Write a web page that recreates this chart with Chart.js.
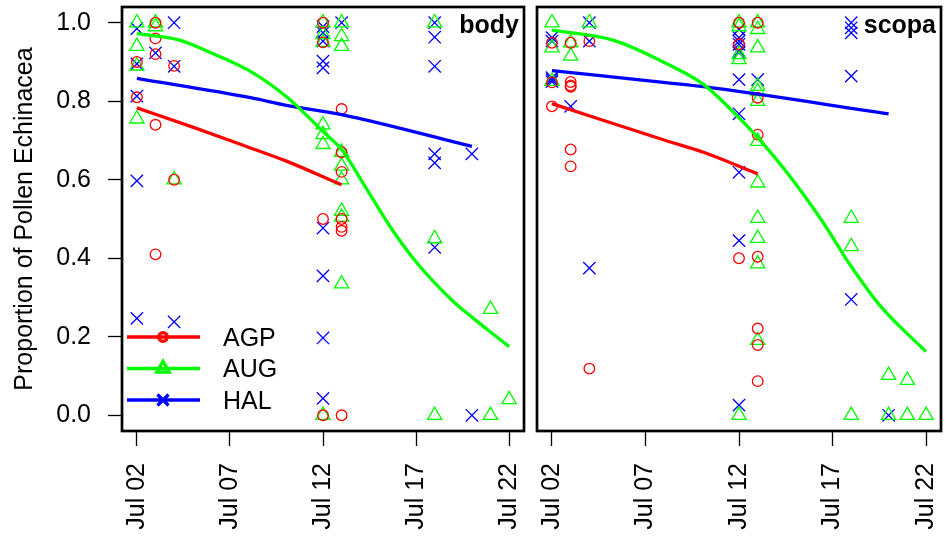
<!DOCTYPE html>
<html>
<head>
<meta charset="utf-8">
<script src="https://cdn.jsdelivr.net/npm/chart.js@4.4.1/dist/chart.umd.min.js"></script>
<style>
  html, body { margin: 0; padding: 0; background: #fff; }
  #wrap { position: relative; width: 952px; height: 537px; }
  #bodyBox { position: absolute; left: 0; top: 0; width: 530px; height: 537px; }
  #scopaBox { position: absolute; left: 530px; top: 0; width: 422px; height: 537px; }
</style>
</head>
<body>
<div id="wrap">
  <div id="bodyBox"><canvas id="bodyChart" width="530" height="537"></canvas></div>
  <div id="scopaBox"><canvas id="scopaChart" width="422" height="537"></canvas></div>
</div>
<script>
// groups, ticks
const groups = ['AGP', 'AUG', 'HAL'];
const dayTicks = [2, 7, 12, 17, 22];
const propTicks = [0, 0.2, 0.4, 0.6, 0.8, 1.0];

// body samples: [day of July, proportion]
const bodyAGP = [[2, 0.90], [2, 0.81], [3, 1.0], [3, 0.96], [3, 0.92], [3, 0.74], [3, 0.41],
  [4, 0.89], [4, 0.60], [12, 1.0], [12, 0.95], [12, 0.50], [12, 0.0],
  [13, 0.78], [13, 0.67], [13, 0.62], [13, 0.50], [13, 0.48], [13, 0.47], [13, 0.0]];
const bodyAUG = [[2, 1.0], [2, 0.94], [2, 0.89], [2, 0.755], [3, 1.0], [3, 0.99], [4, 0.60],
  [12, 1.0], [12, 0.97], [12, 0.95], [12, 0.74], [12, 0.715], [12, 0.69], [12, 0.0],
  [13, 1.0], [13, 0.965], [13, 0.94], [13, 0.67], [13, 0.635], [13, 0.60], [13, 0.52], [13, 0.505], [13, 0.335],
  [18, 1.0], [18, 0.45], [18, 0.0], [21, 0.27], [21, 0.0], [22, 0.04]];
const bodyHAL = [[2, 0.985], [2, 0.895], [2, 0.813], [2, 0.597], [2, 0.247], [3, 0.923],
  [4, 1.0], [4, 0.889], [4, 0.238],
  [12, 0.99], [12, 0.974], [12, 0.953], [12, 0.902], [12, 0.885], [12, 0.477], [12, 0.355], [12, 0.197], [12, 0.043],
  [13, 1.0], [18, 1.0], [18, 0.963], [18, 0.889], [18, 0.666], [18, 0.643], [18, 0.428],
  [20, 0.666], [20, 0.0]];

// body fitted curves
const bodyFitAGP = [[2, 0.783], [5, 0.734], [8.1, 0.681], [10, 0.648], [13, 0.587]];
const bodyFitAUG = [[2, 0.972], [4.2, 0.957], [6, 0.923], [8.1, 0.876], [10.1, 0.809], [12, 0.723], [13, 0.677],
  [14.3, 0.58], [15.6, 0.481], [17.05, 0.388], [19, 0.29], [20, 0.25], [21, 0.212], [22, 0.175]];
const bodyFitHAL = [[2, 0.858], [8.1, 0.809], [10.1, 0.789], [13, 0.766], [20, 0.685]];

// scopa samples
const scopaAGP = [[2, 0.949], [2, 0.848], [2, 0.787], [3, 0.949], [3, 0.849], [3, 0.84], [3, 0.837], [3, 0.677], [3, 0.634],
  [4, 0.953], [4, 0.119], [12, 1.0], [12, 0.945], [12, 0.40],
  [13, 1.0], [13, 0.809], [13, 0.715], [13, 0.404], [13, 0.221], [13, 0.179], [13, 0.087]];
const scopaAUG = [[2, 1.0], [2, 0.936], [2, 0.851], [3, 0.949], [3, 0.915], [4, 1.0],
  [12, 1.0], [12, 0.99], [12, 0.919], [12, 0.906], [12, 0.0],
  [13, 1.0], [13, 0.983], [13, 0.936], [13, 0.838], [13, 0.825], [13, 0.80], [13, 0.698], [13, 0.592], [13, 0.502],
  [13, 0.451], [13, 0.386], [13, 0.191],
  [18, 0.502], [18, 0.43], [18, 0.0], [20, 0.102], [20, 0.0], [21, 0.089], [21, 0.0], [22, 0.0]];
const scopaHAL = [[2, 0.962], [2, 0.953], [2, 0.86], [2, 0.855], [2, 0.85], [3, 0.787],
  [4, 1.0], [4, 0.953], [4, 0.375],
  [12, 0.983], [12, 0.962], [12, 0.953], [12, 0.945], [12, 0.928], [12, 0.923], [12, 0.855], [12, 0.768],
  [12, 0.619], [12, 0.445], [12, 0.026],
  [13, 0.855], [18, 1.0], [18, 0.987], [18, 0.974], [18, 0.864], [18, 0.295], [20, 0.0]];

// scopa fitted curves
const scopaFitAGP = [[2, 0.794], [8.2, 0.698], [10.1, 0.67], [13, 0.615]];
const scopaFitAUG = [[2, 0.981], [5.3, 0.955], [8.2, 0.894], [10.1, 0.843], [12.1, 0.753], [13.1, 0.702],
  [14.8, 0.604], [16.4, 0.498], [18, 0.379], [19.6, 0.276], [22, 0.162]];
const scopaFitHAL = [[2, 0.878], [8.2, 0.847], [10.1, 0.837], [20, 0.768]];

const groupColors = ['#ff0000', '#00ff00', '#0000ff'];
const groupStyles = ['circle', 'triangle', 'crossRot'];
const groupRadius = [5.3, 8.2, 8.7];
const FONT = "'Liberation Sans', Arial, sans-serif";

Chart.defaults.font.family = FONT;
Chart.defaults.color = '#000';

function toXY(arr) {
    return arr.map(p => ({ x: p[0], y: p[1] }));
}

function buildDatasets(samples, fits) {
    const ds = [];
    // fitted curves first so they sit on top of the points
    fits.forEach((f, i) => {
        ds.push({
            label: groups[i] + ' fit',
            data: toXY(f),
            showLine: true,
            borderColor: groupColors[i],
            borderWidth: 3.3,
            pointRadius: 0,
            fill: false,
            cubicInterpolationMode: 'monotone'
        });
    });
    samples.forEach((s, i) => {
        ds.push({
            label: groups[i],
            data: toXY(s),
            showLine: false,
            pointStyle: groupStyles[i],
            pointRadius: groupRadius[i],
            pointBorderWidth: 1.3,
            borderColor: groupColors[i],
            backgroundColor: 'rgba(0,0,0,0)'
        });
    });
    return ds;
}

// box round the plot, panel name, optional legend
const panelDecor = {
    id: 'panelDecor',
    afterDatasetsDraw(chart, args, opts) {
        const { ctx, chartArea: a } = chart;
        ctx.save();
        ctx.strokeStyle = '#000';
        ctx.lineWidth = 2.7;
        ctx.strokeRect(a.left, a.top, a.right - a.left, a.bottom - a.top);

        ctx.font = 'bold 25px ' + FONT;
        ctx.fillStyle = '#000';
        ctx.textAlign = 'right';
        ctx.textBaseline = 'alphabetic';
        ctx.fillText(opts.name, a.right - 5, a.top + 26);

        if (opts.legend) {
            const legR = [4.3, 7.2, 7.8];
            groups.forEach((g, i) => {
                const y = a.bottom - 94 + i * 31.5;
                ctx.strokeStyle = groupColors[i];
                ctx.lineWidth = 3.3;
                ctx.beginPath();
                ctx.moveTo(a.left + 5, y);
                ctx.lineTo(a.left + 78, y);
                ctx.stroke();
                ctx.fillStyle = 'rgba(0,0,0,0)';
                Chart.helpers.drawPoint(ctx, {
                    pointStyle: groupStyles[i], radius: legR[i], rotation: 0, borderWidth: 3.3
                }, a.left + 41, y);
                ctx.fillStyle = '#000';
                ctx.font = '25px ' + FONT;
                ctx.textAlign = 'left';
                ctx.textBaseline = 'middle';
                ctx.fillText(g, a.left + 101, y + 2);
            });
        }
        ctx.restore();
    }
};

function makePanel(canvasId, name, samples, fits, showY) {
    return new Chart(document.getElementById(canvasId), {
        type: 'scatter',
        data: { datasets: buildDatasets(samples, fits) },
        options: {
            responsive: false,
            animation: false,
            events: [],
            layout: {
                autoPadding: false,
                padding: showY ? { left: 0, right: 6, top: 7, bottom: 0 } : { left: 7, right: 11, top: 7, bottom: 0 }
            },
            scales: {
                x: {
                    type: 'linear',
                    min: 1.2,
                    max: 22.8,
                    afterBuildTicks: s => { s.ticks = dayTicks.map(v => ({ value: v })); },
                    afterFit: s => { s.height = 106; s.paddingLeft = 0; s.paddingRight = 0; },
                    ticks: {
                        autoSkip: false,
                        minRotation: 90,
                        maxRotation: 90,
                        padding: 17,
                        font: { size: 25 },
                        callback: v => 'Jul ' + String(v).padStart(2, '0')
                    },
                    grid: { drawOnChartArea: false, tickLength: 15, tickColor: '#000', tickWidth: 1.3 },
                    border: { display: false }
                },
                y: {
                    display: showY,
                    min: -0.04,
                    max: 1.04,
                    afterBuildTicks: s => { s.ticks = propTicks.map(v => ({ value: v })); },
                    afterFit: s => {
                        if (showY) s.width = 122;
                        s.paddingTop = 0;
                        s.paddingBottom = 0;
                    },
                    ticks: {
                        padding: 17,
                        font: { size: 25 },
                        callback: v => v.toFixed(1)
                    },
                    grid: { drawOnChartArea: false, tickLength: 14, tickColor: '#000', tickWidth: 1.3 },
                    border: { display: false },
                    title: {
                        display: true,
                        text: 'Proportion of Pollen Echinacea',
                        font: { size: 25 },
                        padding: { top: 10, bottom: 0 }
                    }
                }
            },
            plugins: {
                legend: { display: false },
                tooltip: { enabled: false },
                panelDecor: { name: name, legend: showY }
            }
        },
        plugins: [panelDecor]
    });
}

makePanel('bodyChart', 'body', [bodyAGP, bodyAUG, bodyHAL], [bodyFitAGP, bodyFitAUG, bodyFitHAL], true);
makePanel('scopaChart', 'scopa', [scopaAGP, scopaAUG, scopaHAL], [scopaFitAGP, scopaFitAUG, scopaFitHAL], false);
</script>
</body>
</html>
